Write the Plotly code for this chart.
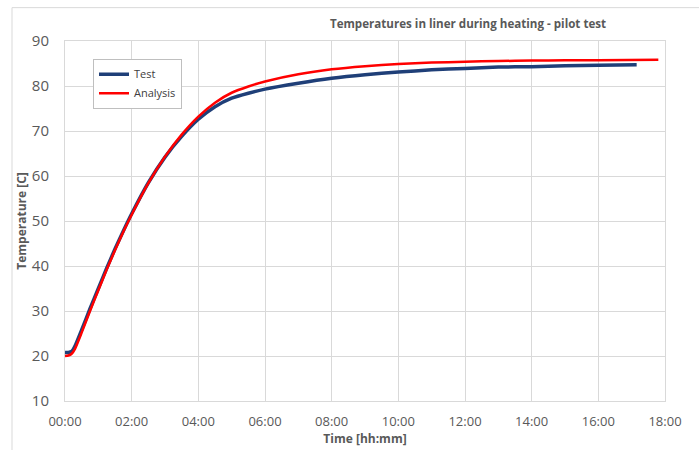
import plotly.graph_objects as go

# Data (time in hours, temperature in C)
test_time = [0, 0.1, 0.2, 0.3, 0.5, 0.75, 1.0, 1.25, 1.5, 1.75, 2.0, 2.5, 3.0, 3.5, 4.0, 4.5, 5.0, 5.5, 6.0,
             7.0, 8.0, 9.0, 10.0, 11.0, 12.0, 13.0, 14.0, 15.0, 16.0, 17.15]
test_temp = [20.8, 20.8, 21.0, 22.2, 25.8, 30.5, 35.0, 39.5, 43.8, 47.8, 51.6, 58.5, 64.2, 68.8, 72.6, 75.4, 77.3,
             78.4, 79.3, 80.6, 81.7, 82.5, 83.1, 83.6, 83.9, 84.2, 84.3, 84.5, 84.6, 84.7]

analysis_time = [0, 0.1, 0.2, 0.3, 0.5, 0.75, 1.0, 1.25, 1.5, 1.75, 2.0, 2.5, 3.0, 3.5, 4.0, 4.5, 5.0, 5.5, 6.0,
                 7.0, 8.0, 9.0, 10.0, 11.0, 12.0, 13.0, 14.0, 15.0, 16.0, 17.8]
analysis_temp = [20.0, 20.1, 20.5, 21.6, 25.2, 30.0, 34.6, 39.2, 43.5, 47.6, 51.4, 58.4, 64.3, 69.2, 73.2, 76.3,
                 78.5, 79.9, 81.0, 82.6, 83.7, 84.4, 84.9, 85.2, 85.4, 85.55, 85.65, 85.7, 85.75, 85.85]

x_tickvals = [0, 2, 4, 6, 8, 10, 12, 14, 16, 18]
x_ticktext = ["00:00", "02:00", "04:00", "06:00", "08:00", "10:00", "12:00", "14:00", "16:00", "18:00"]
y_tickvals = [10, 20, 30, 40, 50, 60, 70, 80, 90]

FONT = "Open Sans"
GRAY = "#595959"
GRID = "#d9d9d9"

fig = go.Figure()
fig.add_trace(go.Scatter(x=test_time, y=test_temp, name="Test", mode="lines",
                         line=dict(color="#1f3f78", width=3.5, shape="spline", smoothing=0.5)))
fig.add_trace(go.Scatter(x=analysis_time, y=analysis_temp, name="Analysis", mode="lines",
                         line=dict(color="#ff0000", width=2.5, shape="spline", smoothing=0.5)))

fig.update_layout(
    width=699, height=450,
    margin=dict(l=65, r=34, t=41, b=42),
    paper_bgcolor="white", plot_bgcolor="white",
    font=dict(family=FONT, color=GRAY),
    title=dict(text="<b>Temperatures in liner during heating - pilot test</b>",
               font=dict(family=FONT, size=11.6, color=GRAY),
               x=(468 - 65) / 600, xref="paper", xanchor="center",
               y=1 - 24 / 450, yref="container", yanchor="middle"),
    legend=dict(x=(93 - 65) / 600, y=(408 - 59) / 367, xanchor="left", yanchor="top",
                bordercolor="#bfbfbf", borderwidth=1, bgcolor="white",
                font=dict(family=FONT, size=11, color="#404040"), tracegroupgap=0),
    showlegend=True,
)
fig.update_xaxes(range=[0, 18], tickvals=x_tickvals, ticktext=x_ticktext,
                 showgrid=True, gridcolor=GRID, gridwidth=1, zeroline=False,
                 showline=True, linecolor=GRID, mirror=True,
                 tickfont=dict(family=FONT, size=13, color=GRAY),
                 ticklabelstandoff=8,
                 title=dict(text="<b>Time [hh:mm]</b>", font=dict(family=FONT, size=12, color=GRAY), standoff=0))
fig.update_yaxes(range=[10, 90], tickvals=y_tickvals,
                 showgrid=True, gridcolor=GRID, gridwidth=1, zeroline=False,
                 showline=True, linecolor=GRID, mirror=True,
                 tickfont=dict(family=FONT, size=15, color=GRAY),
                 ticklabelstandoff=12,
                 title=dict(text="<b>Temperature [C]</b>", font=dict(family=FONT, size=12, color=GRAY), standoff=2))

# outer chart frame
fig.add_shape(type="rect", xref="paper", yref="paper",
              x0=(12 - 65) / 600, x1=1.2, y0=-0.3, y1=(408 - 7) / 367,
              line=dict(color=GRID, width=1), fillcolor="rgba(0,0,0,0)", layer="below")

fig.write_html("out.html")
